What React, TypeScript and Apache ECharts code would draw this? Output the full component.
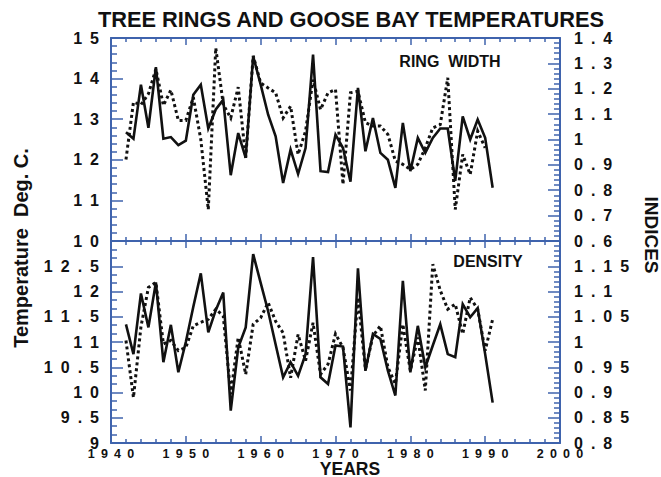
import React, { useEffect, useRef } from "react";
import * as echarts from "echarts";

const years = Array.from({ length: 50 }, (_, i) => 1942 + i);

const ringTemp = [
  12.68, 12.52, 13.85, 12.79, 14.28, 12.52, 12.56, 12.36, 12.47, 13.6,
  13.85, 12.77, 13.24, 13.48, 11.62, 12.66, 12.05, 14.55, 13.85, 13.11,
  12.58, 11.43, 12.25, 11.65, 12.29, 14.59, 11.72, 11.7, 12.62, 12.29,
  11.46, 13.77, 12.21, 13.03, 12.17, 12.0, 11.31, 12.91, 11.72, 12.54,
  12.17, 12.54, 12.77, 12.77, 11.48, 13.07, 12.5, 12.99, 12.54, 11.31,
];

const ringWidth = [
  0.921, 1.147, 1.137, 1.18, 1.278, 1.134, 1.195, 1.075, 1.075, 1.166,
  1.0, 0.724, 1.361, 1.138, 1.085, 1.206, 0.928, 1.33, 1.223, 1.203,
  1.184, 1.085, 1.131, 0.941, 1.033, 1.236, 1.118, 1.184, 1.197, 0.823,
  1.184, 1.19, 1.066, 1.053, 1.053, 1.02, 0.915, 0.902, 0.882, 0.902,
  0.967, 1.046, 1.059, 1.243, 0.724, 0.941, 0.862, 1.033, 0.967,
];

const densTemp = [
  11.35, 10.76, 11.96, 11.29, 12.18, 10.6, 11.34, 10.4, 11.0, 11.7,
  12.36, 11.19, 11.63, 11.98, 9.64, 10.89, 11.29, 12.74, 12.17, 11.61,
  10.95, 10.3, 10.6, 10.33, 10.76, 12.68, 10.3, 10.17, 10.93, 10.91,
  9.31, 12.46, 10.43, 11.16, 11.06, 10.43, 9.94, 12.21, 10.4, 11.32,
  10.5, 10.93, 11.35, 10.76, 10.7, 11.75, 11.49, 11.67, 10.76, 9.8,
];

const density = [
  1.003, 0.89, 1.03, 1.108, 1.118, 0.996, 1.003, 0.983, 0.989, 1.032,
  1.039, 1.045, 1.065, 1.052, 0.897, 1.009, 0.936, 1.035, 1.048, 1.078,
  1.041, 1.018, 0.929, 1.015, 0.963, 1.038, 0.936, 0.956, 1.016, 0.989,
  0.904, 1.088, 0.946, 1.012, 1.032, 0.95, 0.917, 1.035, 0.943, 1.009,
  0.904, 1.154, 1.102, 1.065, 1.075, 1.016, 1.088, 1.065, 0.983, 1.045,
];

const BLUE = "#3f63ad";
const INK = "#111111";
const FONT = '"Liberation Sans", Arial, sans-serif';
const SP = "\u2002";

const spaced = (v: number) =>
  String(parseFloat(v.toFixed(2))).split("").join(SP);

function xAxis(gridIndex: number, position: "top" | "bottom", labels: boolean) {
  return {
    type: "value",
    gridIndex,
    position,
    min: 1940,
    max: 2000,
    interval: 10,
    axisLine: { show: true, onZero: false, lineStyle: { color: BLUE, width: 2 } },
    axisTick: { show: true, inside: true, length: 7, lineStyle: { color: BLUE, width: 1.5 } },
    minorTick: { show: true, splitNumber: 5, length: 4, lineStyle: { color: BLUE, width: 1.5 } },
    splitLine: { show: false },
    minorSplitLine: { show: false },
    axisLabel: {
      show: labels,
      margin: 5,
      fontSize: 12.5,
      lineHeight: 12,
      fontWeight: "bold",
      fontFamily: FONT,
      color: INK,
      formatter: (v: number) => spaced(v),
    },
  };
}

function yAxis(
  gridIndex: number,
  position: "left" | "right",
  min: number,
  max: number,
  interval: number,
  minor: number,
  showMax: boolean
) {
  return {
    type: "value",
    gridIndex,
    position,
    min,
    max,
    interval,
    axisLine: { show: true, onZero: false, lineStyle: { color: BLUE, width: 2 } },
    axisTick: { show: true, inside: true, length: 12, lineStyle: { color: BLUE, width: 1.5 } },
    minorTick: { show: true, splitNumber: minor, length: 6, lineStyle: { color: BLUE, width: 1.5 } },
    splitLine: { show: false },
    minorSplitLine: { show: false },
    axisLabel: {
      show: true,
      showMaxLabel: showMax,
      showMinLabel: true,
      margin: position === "left" ? 12 : 14,
      fontSize: 16,
      lineHeight: 13,
      fontWeight: "bold",
      fontFamily: FONT,
      color: INK,
      formatter: (v: number) => spaced(v),
    },
  };
}

const solid = { color: INK, width: 2.6, join: "miter" };
const dotted = { color: INK, width: 3, type: [3, 3], join: "miter" };

export default function App() {
  const ref = useRef<HTMLDivElement>(null);
  useEffect(() => {
    if (!ref.current) return;
    const chart = echarts.init(ref.current, undefined, { renderer: "svg" });
    const mk = (vals: number[]) => vals.map((v, i) => [years[i], v]);
    chart.setOption({
      animation: false,
      backgroundColor: "#ffffff",
      grid: [
        { left: 111, top: 38, width: 449, height: 203 },
        { left: 111, top: 241, width: 449, height: 202 },
      ],
      xAxis: [
        xAxis(0, "bottom", false),
        xAxis(0, "top", false),
        xAxis(1, "bottom", true),
        xAxis(1, "top", false),
      ],
      yAxis: [
        yAxis(0, "left", 10, 15, 1, 5, true),
        yAxis(0, "right", 0.6, 1.4, 0.1, 5, true),
        yAxis(1, "left", 9, 13, 0.5, 3, false),
        yAxis(1, "right", 0.8, 1.2, 0.05, 5, false),
      ],
      series: [
        { type: "line", xAxisIndex: 0, yAxisIndex: 0, data: mk(ringTemp), symbol: "none", lineStyle: solid },
        { type: "line", xAxisIndex: 0, yAxisIndex: 1, data: mk(ringWidth), symbol: "none", lineStyle: dotted },
        { type: "line", xAxisIndex: 2, yAxisIndex: 2, data: mk(densTemp), symbol: "none", lineStyle: solid },
        { type: "line", xAxisIndex: 2, yAxisIndex: 3, data: mk(density), symbol: "none", lineStyle: dotted },
      ],
      graphic: [
        {
          type: "text",
          x: 351,
          y: 19,
          style: {
            text: "TREE RINGS AND GOOSE BAY TEMPERATURES",
            font: `bold 21.8px ${FONT}`,
            fill: INK,
            textAlign: "center",
            textVerticalAlign: "middle",
          },
        },
        {
          type: "text",
          x: 450,
          y: 61,
          style: {
            text: "RING  WIDTH",
            font: `bold 16px ${FONT}`,
            fill: INK,
            textAlign: "center",
            textVerticalAlign: "middle",
          },
        },
        {
          type: "text",
          x: 488,
          y: 261,
          style: {
            text: "DENSITY",
            font: `bold 16px ${FONT}`,
            fill: INK,
            textAlign: "center",
            textVerticalAlign: "middle",
          },
        },
        {
          type: "text",
          x: 350,
          y: 468.5,
          style: {
            text: "YEARS",
            font: `bold 17.5px ${FONT}`,
            lineHeight: 16,
            fill: INK,
            textAlign: "center",
            textVerticalAlign: "middle",
          },
        },
        {
          type: "text",
          x: 21,
          y: 248,
          rotation: Math.PI / 2,
          style: {
            text: "Temperature  Deg. C.",
            font: `bold 20px ${FONT}`,
            fill: INK,
            textAlign: "center",
            textVerticalAlign: "middle",
          },
        },
        {
          type: "text",
          x: 651,
          y: 235,
          rotation: -Math.PI / 2,
          style: {
            text: "INDICES",
            font: `bold 19px ${FONT}`,
            fill: INK,
            textAlign: "center",
            textVerticalAlign: "middle",
          },
        },
      ],
    });
    return () => chart.dispose();
  }, []);
  return (
    <div
      ref={ref}
      style={{ position: "fixed", left: 0, top: 0, width: 661, height: 477, background: "#fff" }}
    />
  );
}
